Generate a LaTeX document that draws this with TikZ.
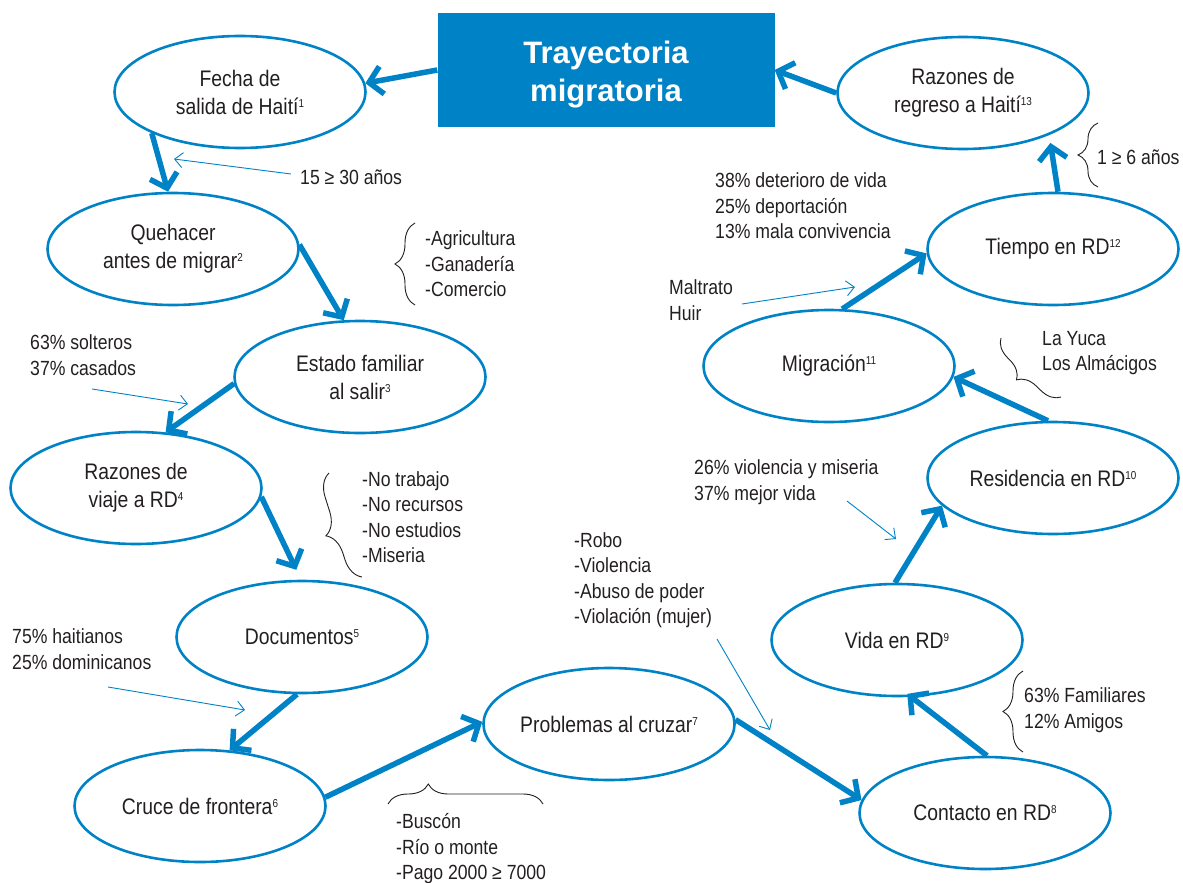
\documentclass[tikz,border=0pt]{standalone}
\usepackage{fontspec}
\setmainfont{Liberation Sans}[FakeStretch=0.86]
\newfontfamily\titlefont{Liberation Sans}
\usetikzlibrary{shapes.geometric,arrows.meta,decorations.pathreplacing,calc}
\definecolor{mblue}{RGB}{0,130,198}
\definecolor{tgray}{RGB}{35,31,32}
\newcommand\supnum[1]{\raisebox{7pt}{\fontsize{11.5}{11.5}\selectfont #1}}
\begin{document}
\begin{tikzpicture}[x=1pt,y=-1pt,
  stage/.style={ellipse, draw=mblue, line width=2.6pt, minimum width=251pt, minimum height=112pt, inner sep=0pt, align=center, font=\fontsize{22.5}{28}\selectfont, text=tgray},
  note/.style={anchor=west, align=left, inner sep=0pt, font=\fontsize{20.5}{25.5}\selectfont, text=tgray},
  flow/.style={draw=mblue, line width=5.5pt, -{Straight Barb[length=13pt,width=28pt]}},
  hint/.style={draw=mblue, line width=0.9pt, -{Straight Barb[length=8pt,width=15pt]}},
  bracket/.style={draw=tgray, line width=0.9pt, decorate, decoration={brace, amplitude=#1}},
]
\useasboundingbox (0,0) rectangle (1183,883);

% title box
\node[fill=mblue, minimum width=337pt, minimum height=114pt, inner sep=0pt] (box) at (606,70) {};
\node[align=center, text=white, inner sep=0pt,
      font=\titlefont\bfseries\fontsize{31}{38}\selectfont] (title) at ([yshift=-5pt]box.center) {Trayectoria\\migratoria};

% stages
\node[stage] (n1) at (240,92) {Fecha de\\salida de Haití\supnum{1}};
\node[stage] (n2) at (173,249) {Quehacer\\antes de migrar\supnum{2}};
\node[stage] (n3) at (360,377) {Estado familiar\\al salir\supnum{3}};
\node[stage] (n4) at (136,488) {Razones de\\viaje a RD\supnum{4}};
\node[stage] (n5) at (302,637) {Documentos\supnum{5}};
\node[stage] (n6) at (200,806) {Cruce de frontera\supnum{6}};
\node[stage] (n7) at (609,724) {Problemas al cruzar\supnum{7}};
\node[stage] (n8) at (985,813) {Contacto en RD\supnum{8}};
\node[stage] (n9) at (897,640) {Vida en RD\supnum{9}};
\node[stage] (n10) at (1053,478) {Residencia en RD\supnum{10}};
\node[stage] (n11) at (829,366) {Migración\supnum{11}};
\node[stage] (n12) at (1053,249) {Tiempo en RD\supnum{12}};
\node[stage] (n13) at (963,93) {Razones de\\regreso a Haití\supnum{13}};

% main flow
\draw[flow] (box.west) -- (n1.4);
\draw[flow] (n1.205) -- (n2.95);
\draw[flow] (n2.2) -- (n3.106);
\draw[flow] (n3.183) -- (n4.62);
\draw[flow, shorten >=11pt] (n4.-4) -- (n5.91);
\draw[flow] (n5.265) -- (n6.62);
\draw[flow] (n6.4) -- (n7.179);
\draw[flow] (n7.2) -- (n8.174);
\draw[flow, shorten >=-5pt] (n8.88) -- (n9.-76);
\draw[flow] (n9.92) -- (n10.194);
\draw[flow] (n10.95) -- (n11.-5);
\draw[flow] (n11.77) -- (n12.182);
\draw[flow, shorten >=8pt] (n12.85) -- (n13.-26);
\draw[flow] (n13.180) -- (box.east);

% notes
\node[note] (t1) at (300,177) {15 ≥ 30 años};
\node[note] (t2) at (30,355) {63\% solteros\\37\% casados};
\node[note] (t3) at (425,264) {-Agricultura\\-Ganadería\\-Comercio};
\node[note] (t4) at (362,517) {-No trabajo\\-No recursos\\-No estudios\\-Miseria};
\node[note] (t5) at (12,649) {75\% haitianos\\25\% dominicanos};
\node[note] (t6) at (396,849) {-Buscón\\-Río o monte\\-Pago 2000 ≥ 7000};
\node[note] (t7) at (574,580) {-Robo\\-Violencia\\-Abuso de poder\\-Violación (mujer)};
\node[note] (t8) at (694,482) {26\% violencia y miseria\\37\% mejor vida};
\node[note] (t9) at (1024,710) {63\% Familiares\\12\% Amigos};
\node[note] (t10) at (669,300) {Maltrato\\Huir};
\node[note] (t11) at (715,206) {38\% deterioro de vida\\25\% deportación\\13\% mala convivencia};
\node[note] (t12) at (1042,353) {La Yuca\\Los Almácigos};
\node[note] (t13) at (1097,157) {1 ≥ 6 años};

% thin pointers
\coordinate (h1s) at (291,174); \coordinate (h1e) at (174,159);
\coordinate (h2s) at (92,389);  \coordinate (h2e) at (188,404);
\coordinate (h3s) at (108,687); \coordinate (h3e) at (245,710);
\coordinate (h4s) at (717,639); \coordinate (h4e) at (770,730);
\coordinate (h5s) at (847,501); \coordinate (h5e) at (896,539);
\coordinate (h6s) at (742,304); \coordinate (h6e) at (855,287);
\draw[hint] (h1s) -- (h1e);
\draw[hint] (h2s) -- (h2e);
\draw[hint] (h3s) -- (h3e);
\draw[hint] (h4s) -- (h4e);
\draw[hint] (h5s) -- (h5e);
\draw[hint] (h6s) -- (h6e);

% braces
\coordinate (b1a) at (415,305);  \coordinate (b1b) at (415,223);
\coordinate (b2a) at (362,577);  \coordinate (b2b) at (329,473);
\coordinate (b3a) at (388,804);  \coordinate (b3b) at (543,804);
\coordinate (b4a) at (1023,752); \coordinate (b4b) at (1023,671);
\coordinate (b5a) at (1098,187); \coordinate (b5b) at (1098,123);
\coordinate (b6a) at (1061,397); \coordinate (b6b) at (1001,338);
\draw[bracket=20pt] (b1a) -- (b1b);
\draw[bracket=22pt, decoration={aspect=0.46}] (b2a) -- (b2b);
\draw[bracket=20pt, decoration={aspect=0.26}] (b3a) -- (b3b);
\draw[bracket=20pt] (b4a) -- (b4b);
\draw[bracket=20pt] (b5a) -- (b5b);
\draw[bracket=19pt, decoration={aspect=0.52}] (b6a) -- (b6b);
\end{tikzpicture}
\end{document}
